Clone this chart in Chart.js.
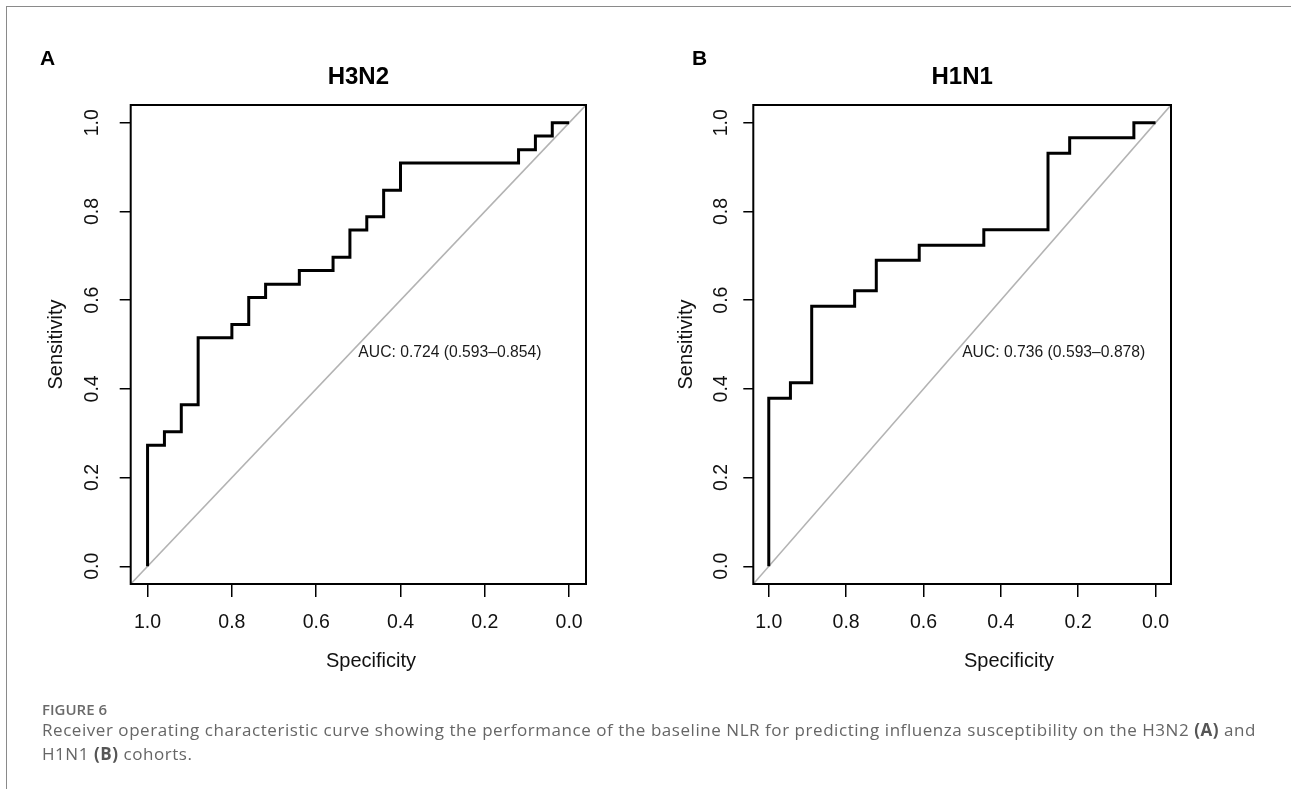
<!DOCTYPE html>
<html>
<head>
<meta charset="utf-8">
<script src="https://cdn.jsdelivr.net/npm/chart.js@4.4.1/dist/chart.umd.min.js"></script>
<style>
  body { margin: 0; background: #fff; overflow: hidden; width: 1291px; height: 789px; position: relative; }
  #frame { position: absolute; left: 6px; top: 6px; width: 1320px; height: 820px; border-top: 1.5px solid #8a8a8a; border-left: 1.5px solid #8a8a8a; }
  canvas { position: absolute; top: 0; }
  #chartA { left: 0; }
  #chartB { left: 640px; }
  .panel { position: absolute; font: bold 21px "Liberation Sans", Arial, sans-serif; line-height: 21px; color: #000; }
  .fig { position: absolute; left: 42px; top: 699px; font: 600 15px "Open Sans", sans-serif; line-height: 20px; color: #6a6a6a; }
  .caption { position: absolute; left: 42px; top: 718px; font: 400 17px "Open Sans", sans-serif; letter-spacing: 0.55px; line-height: 24px; color: #666; white-space: nowrap; }
  .caption b { font-weight: 700; color: #555; }
</style>
</head>
<body>
<div id="frame"></div>
<canvas id="chartA" width="640" height="700"></canvas>
<canvas id="chartB" width="651" height="700"></canvas>
<div class="panel" style="left:40px; top:47px;">A</div>
<div class="panel" style="left:692px; top:47px;">B</div>
<div class="fig">FIGURE 6</div>
<div class="caption">Receiver operating characteristic curve showing the performance of the baseline NLR for predicting influenza susceptibility on the H3N2 <b>(A)</b> and<br>H1N1 <b>(B)</b> cohorts.</div>

<script>
Chart.defaults.font.family = '"Liberation Sans", Arial, sans-serif';
Chart.defaults.color = '#111';

const tickValues = [0, 0.2, 0.4, 0.6, 0.8, 1.0];

// H3N2 roc curve, specificity / sensitivity at each threshold
const specH3N2 = [1, 1, 0.96, 0.96, 0.92, 0.92, 0.88, 0.88, 0.80, 0.80, 0.76, 0.76, 0.72, 0.72, 0.64, 0.64,
  0.56, 0.56, 0.52, 0.52, 0.48, 0.48, 0.44, 0.44, 0.40, 0.40, 0.12, 0.12, 0.08, 0.08, 0.04, 0.04, 0];
const sensH3N2 = [0, 0.273, 0.273, 0.303, 0.303, 0.364, 0.364, 0.515, 0.515, 0.545, 0.545, 0.606, 0.606, 0.636, 0.636, 0.667,
  0.667, 0.697, 0.697, 0.758, 0.758, 0.788, 0.788, 0.848, 0.848, 0.909, 0.909, 0.939, 0.939, 0.970, 0.970, 1, 1];

// H1N1 roc curve
const specH1N1 = [1, 1, 0.944, 0.944, 0.889, 0.889, 0.778, 0.778, 0.722, 0.722, 0.611, 0.611, 0.444, 0.444,
  0.278, 0.278, 0.222, 0.222, 0.056, 0.056, 0];
const sensH1N1 = [0, 0.379, 0.379, 0.414, 0.414, 0.586, 0.586, 0.621, 0.621, 0.690, 0.690, 0.724, 0.724, 0.759,
  0.759, 0.931, 0.931, 0.966, 0.966, 1, 1];

// chance line, runs corner to corner of the plot box
const chanceSpec = [1.04, -0.04];
const chanceSens = [-0.04, 1.04];

const aucH3N2 = 'AUC: 0.724 (0.593–0.854)';
const aucH1N1 = 'AUC: 0.736 (0.593–0.878)';

function toPoints(xs, ys) {
  return xs.map((x, i) => ({ x: x, y: ys[i] }));
}

// box + auc text + x label (centred on the figure region like R does, not on the box)
const rocExtras = {
  id: 'rocExtras',
  afterDatasetsDraw(chart, args, opts) {
    const { ctx, chartArea, scales } = chart;
    ctx.save();
    ctx.strokeStyle = '#000';
    ctx.lineWidth = 2;
    ctx.strokeRect(chartArea.left, chartArea.top, chartArea.right - chartArea.left, chartArea.bottom - chartArea.top);

    ctx.fillStyle = '#1a1a1a';
    ctx.font = '15.7px "Liberation Sans", Arial, sans-serif';
    ctx.textAlign = 'left';
    ctx.textBaseline = 'alphabetic';
    ctx.fillText(opts.auc, scales.x.getPixelForValue(0.5), scales.y.getPixelForValue(0.5) + 12.5);

    ctx.fillStyle = '#111';
    ctx.font = '20px "Liberation Sans", Arial, sans-serif';
    ctx.textAlign = 'center';
    ctx.textBaseline = 'middle';
    ctx.fillText('Specificity', opts.xLabelX, opts.xLabelY);
    ctx.restore();
  }
};

function makeRoc(id, title, spec, sens, auc, lay) {
  return new Chart(document.getElementById(id), {
    type: 'scatter',
    data: {
      datasets: [{
        data: toPoints(chanceSpec, chanceSens),
        showLine: true,
        borderColor: '#b3b3b3',
        borderWidth: 1.6,
        pointRadius: 0,
        order: 2
      }, {
        data: toPoints(spec, sens),
        showLine: true,
        borderColor: '#000',
        borderWidth: 3,
        pointRadius: 0,
        order: 1
      }]
    },
    options: {
      responsive: false,
      animation: false,
      layout: { padding: { left: lay.padLeft, right: lay.padRight, top: 0, bottom: 36 } },
      plugins: {
        legend: { display: false },
        tooltip: { enabled: false },
        title: {
          display: true,
          text: title,
          fullSize: false,
          color: '#000',
          font: { size: 24, weight: 'bold', lineHeight: 1.2 },
          padding: { top: 63.3, bottom: 12.9 }
        },
        rocExtras: { auc: auc, xLabelX: lay.xLabelX, xLabelY: 661.7 }
      },
      scales: {
        x: {
          type: 'linear',
          reverse: true,
          min: -0.04,
          max: 1.04,
          afterBuildTicks: s => { s.ticks = tickValues.map(v => ({ value: v })); },
          afterFit: s => { s.height = 80; },
          ticks: { callback: v => v.toFixed(1), font: { size: 19.5 }, padding: 14, maxRotation: 0, autoSkip: false },
          grid: { drawOnChartArea: false, drawTicks: true, tickLength: 13, color: '#000', lineWidth: 1.5 },
          border: { display: false },
          title: { display: false }
        },
        y: {
          type: 'linear',
          min: -0.04,
          max: 1.04,
          afterBuildTicks: s => { s.ticks = tickValues.map(v => ({ value: v })); },
          afterFit: s => { s.width = lay.yWidth; },
          ticks: { callback: v => v.toFixed(1), font: { size: 19.5 }, padding: lay.yTickPad,
                   minRotation: 90, maxRotation: 90, crossAlign: 'center', autoSkip: false },
          grid: { drawOnChartArea: false, drawTicks: true, tickLength: lay.yTickLen, color: '#000', lineWidth: 1.5 },
          border: { display: false },
          title: { display: true, text: 'Sensitivity', color: '#111', font: { size: 20, lineHeight: 1.2 }, padding: 0 }
        }
      }
    },
    plugins: [rocExtras]
  });
}

makeRoc('chartA', 'H3N2', specH3N2, sensH3N2, aucH3N2,
  { padLeft: 44.7, padRight: 54, yWidth: 86, yTickPad: 13.4, yTickLen: 11, xLabelX: 371 });
makeRoc('chartB', 'H1N1', specH1N1, sensH1N1, aucH1N1,
  { padLeft: 34.7, padRight: 120, yWidth: 78.6, yTickPad: 8, yTickLen: 10, xLabelX: 369 });
</script>
</body>
</html>
